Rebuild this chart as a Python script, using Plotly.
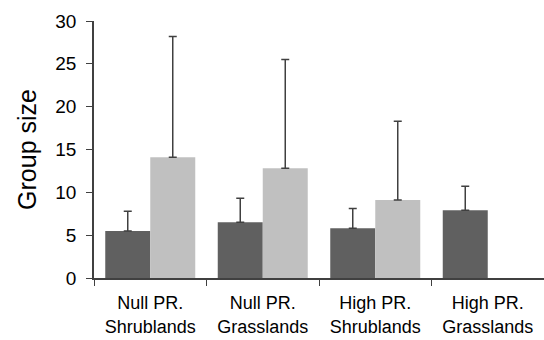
import plotly.graph_objects as go

categories = ["Null PR.<br>Shrublands", "Null PR.<br>Grasslands", "High PR.<br>Shrublands", "High PR.<br>Grasslands"]
dark_values = [5.5, 6.5, 5.8, 7.9]
dark_err = [2.3, 2.8, 2.3, 2.8]
light_values = [14.1, 12.8, 9.1, None]
light_err = [14.1, 12.7, 9.2, None]

fig = go.Figure()
fig.add_trace(go.Bar(
    x=categories, y=dark_values, marker=dict(color="#606060", line=dict(width=0)),
    error_y=dict(type="data", symmetric=False, array=dark_err, arrayminus=[0]*4,
                 color="#404040", thickness=1.5, width=4),
    showlegend=False))
fig.add_trace(go.Bar(
    x=categories, y=light_values, marker=dict(color="#c0c0c0", line=dict(width=0)),
    error_y=dict(type="data", symmetric=False, array=light_err, arrayminus=[0]*4,
                 color="#404040", thickness=1.5, width=4),
    showlegend=False))

fig.update_layout(
    width=544, height=340,
    margin=dict(l=94, r=0, t=21, b=62),
    paper_bgcolor="white", plot_bgcolor="white",
    barmode="group", bargap=0.2, bargroupgap=0,
    font=dict(family="Arial, Liberation Sans, sans-serif", color="black"),
    xaxis=dict(type="category", tickson="boundaries", ticks="outside", ticklen=6,
               tickcolor="#404040", showline=True, linecolor="#404040", linewidth=1.5,
               tickfont=dict(size=18), range=[-0.5, 3.5], showgrid=False, automargin=False,
               ticklabelstandoff=8),
    yaxis=dict(range=[0, 30], tickvals=[0, 5, 10, 15, 20, 25, 30], ticks="outside",
               ticklen=6, tickcolor="#404040", showline=True, linecolor="#404040",
               linewidth=1.5, tickfont=dict(size=19), showgrid=False, zeroline=False,
               automargin=False, ticklabelstandoff=6,
               title=dict(text="Group size", font=dict(size=25), standoff=12)),
)
fig.write_html("out.html", config={"displayModeBar": False},
               post_script="document.body.style.margin='0px';")
